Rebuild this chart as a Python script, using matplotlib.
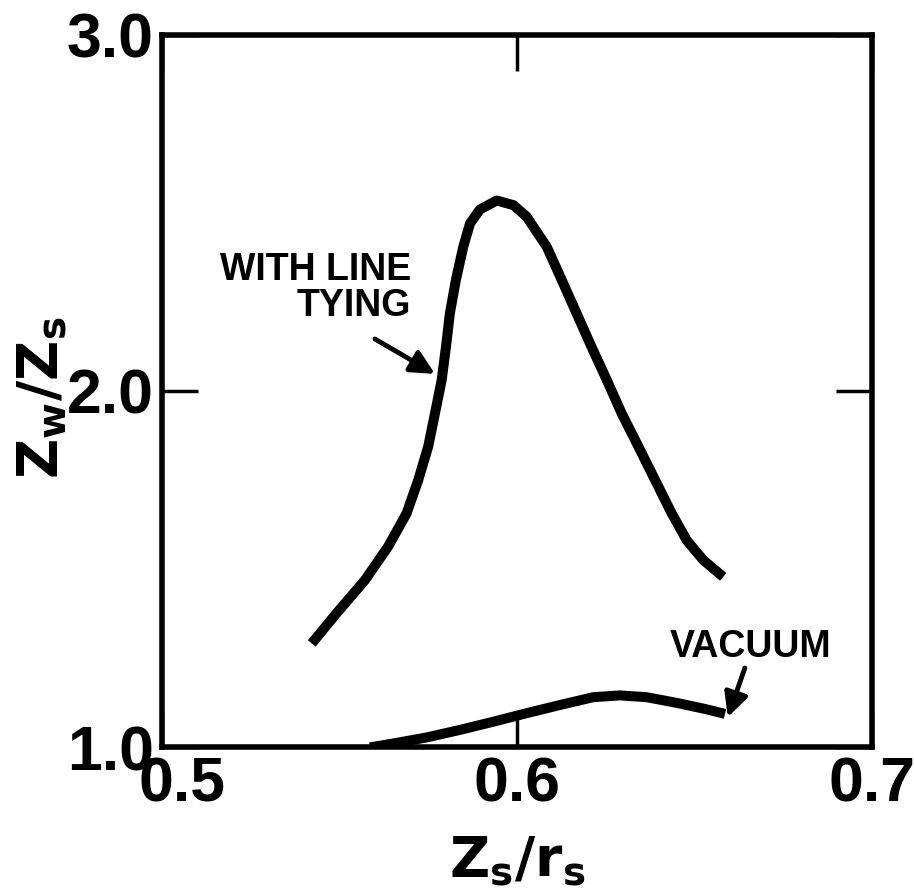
import numpy as np
import matplotlib
matplotlib.use("Agg")
import matplotlib.pyplot as plt
from matplotlib.transforms import ScaledTranslation

plt.rcParams['font.family'] = ['Liberation Sans', 'DejaVu Sans']
plt.rcParams['mathtext.fontset'] = 'dejavusans'

# curve: with line tying
tying_x = [0.5422, 0.5492, 0.5572, 0.5637, 0.5689, 0.5722, 0.5750, 0.5769,
           0.5788, 0.5800, 0.5811, 0.5828, 0.5849, 0.5868, 0.5896, 0.5943,
           0.5990, 0.6027, 0.6055, 0.6084, 0.6126, 0.6168, 0.6210, 0.6253,
           0.6295, 0.6342, 0.6389, 0.6436, 0.6478, 0.6525, 0.6581]
tying_y = [1.291, 1.376, 1.469, 1.563, 1.656, 1.750, 1.844, 1.937,
           2.031, 2.124, 2.218, 2.312, 2.406, 2.471, 2.510, 2.535,
           2.522, 2.490, 2.448, 2.405, 2.312, 2.218, 2.124, 2.031,
           1.937, 1.844, 1.750, 1.656, 1.581, 1.525, 1.478]

# vacuum
vac_x = [0.5586, 0.5652, 0.5746, 0.5839, 0.5933, 0.6027, 0.6121, 0.6215,
         0.6290, 0.6365, 0.6450, 0.6534, 0.6586]
vac_y = [0.999, 1.010, 1.027, 1.048, 1.071, 1.095, 1.118, 1.140,
         1.145, 1.140, 1.124, 1.106, 1.093]

xticks = [0.5, 0.6, 0.7]
xticklabels = ['0.5', '0.6', '0.7']
yticks = [1.0, 2.0, 3.0]
yticklabels = ['1.0', '2.0', '3.0']

fig = plt.figure(figsize=(9.14, 8.94), dpi=100)
ax = fig.add_axes([0.1772, 0.1644, 0.7768, 0.7965])

ax.plot(tying_x, tying_y, color='black', lw=7.2, solid_capstyle='butt',
        solid_joinstyle='round')
ax.plot(vac_x, vac_y, color='black', lw=7.2, solid_capstyle='butt',
        solid_joinstyle='round')

ax.set_xlim(0.5, 0.7)
ax.set_ylim(1.0, 3.0)
ax.set_xticks(xticks)
ax.set_xticklabels(xticklabels)
ax.set_yticks(yticks)
ax.set_yticklabels(yticklabels)
ax.tick_params(direction='in', length=26, width=2.5, top=True, right=True,
               labelsize=45, pad=6)
for lab in ax.get_xticklabels() + ax.get_yticklabels():
    lab.set_fontweight('bold')
# the 0.5 label sits a bit to the right in the original
t0 = ax.xaxis.get_major_ticks()[0].label1
t0.set_transform(t0.get_transform() + ScaledTranslation(0.2, 0, fig.dpi_scale_trans))
for sp in ax.spines.values():
    sp.set_linewidth(4)

# annotations
ax.text(0.5701, 2.29, 'WITH LINE\nTYING', ha='right', va='center',
        multialignment='right', fontsize=27, fontweight='bold',
        linespacing=1.0)
ax.annotate('', xy=(0.5769, 2.048), xytext=(0.5600, 2.146),
            arrowprops=dict(arrowstyle='-|>', color='black', lw=3.5,
                            mutation_scale=36, shrinkA=0, shrinkB=0))
ax.text(0.6657, 1.281, 'VACUUM', ha='center', va='center', fontsize=27,
        fontweight='bold')
ax.annotate('', xy=(0.6594, 1.084), xytext=(0.6642, 1.222),
            arrowprops=dict(arrowstyle='-|>', color='black', lw=3.5,
                            mutation_scale=36, shrinkA=0, shrinkB=0))

ax.text(0.5, -0.160, r'$\mathbf{Z_s/r_s}$', transform=ax.transAxes,
        ha='center', va='center', fontsize=40)
ax.text(-0.169, 0.490, r'$\mathbf{Z_w/Z_s}$', transform=ax.transAxes,
        ha='center', va='center', fontsize=40, rotation=90)

fig.savefig('out.png', dpi=100)
